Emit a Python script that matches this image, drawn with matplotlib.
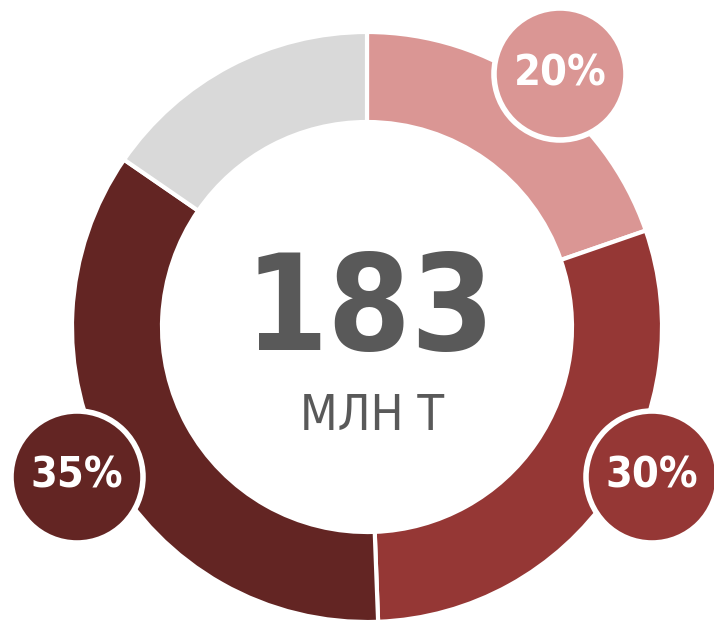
import matplotlib.pyplot as plt
from matplotlib.patches import Circle

# shares of the total
shares = [19.7, 29.7, 35.2, 15.4]
colors = ['#DA9694', '#953735', '#632523', '#D9D9D9']

# bubble labels for the first three segments
labels = ['20%', '30%', '35%']
bubble_xy = [(560, 549), (652, 146), (77, 146)]

total = '183'
unit = 'МЛН Т'

fig = plt.figure(figsize=(7.14, 6.23), dpi=100)
ax = fig.add_axes([0, 0, 1, 1])

ax.pie(shares, colors=colors, startangle=90, counterclock=False,
       center=(367, 296), radius=295,
       wedgeprops=dict(width=90, edgecolor='white', linewidth=3))

for (x, y), lab, c in zip(bubble_xy, labels, colors):
    ax.add_patch(Circle((x, y), 66, facecolor=c, edgecolor='white',
                        linewidth=4, zorder=5))
    ax.text(x, y + 1, lab, ha='center', va='center', color='white',
            fontsize=31, fontweight='bold', family='DejaVu Sans',
            fontstretch='condensed', zorder=6)

ax.text(370, 310, total, ha='center', va='center', color='#595959',
        fontsize=96, fontweight='bold', family='DejaVu Sans',
        fontstretch='condensed')
ax.text(372, 207, unit, ha='center', va='center', color='#595959',
        fontsize=35, family='DejaVu Sans', fontstretch='condensed')

ax.set_xlim(0, 714)
ax.set_ylim(0, 623)
ax.set_aspect('equal')
ax.axis('off')

fig.savefig('out.png', dpi=100)
